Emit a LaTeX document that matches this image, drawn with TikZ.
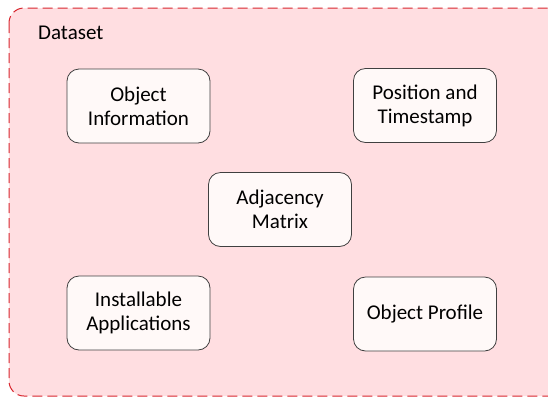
\documentclass[tikz,border=0pt]{standalone}
\usepackage{fontspec}
\setmainfont{Carlito}
\definecolor{setpink}{HTML}{FFDEE1}
\definecolor{setred}{HTML}{D8262E}
\definecolor{itemfill}{HTML}{FFF9F8}
\definecolor{itemline}{HTML}{404040}
\begin{document}
\begin{tikzpicture}[x=1pt, y=-1pt,
	item/.style={draw=itemline, fill=itemfill, rounded corners=12pt, line width=.8pt, minimum width=143pt, minimum height=74pt, align=center, font=\fontsize{21}{24}\selectfont}]
	\useasboundingbox (0,0) rectangle (548,397);
	\clip (0,0) rectangle (548,397);
	\draw[setred, fill=setpink, dash pattern=on 10pt off 5pt, line width=1pt, rounded corners=15pt] (9,8) rectangle (575,396);
	\node[anchor=west, inner sep=0pt, font=\fontsize{21}{24}\selectfont] (title) at (38,33) {Dataset};
	\node[item] (info) at (138.5,106) {Object\\Information};
	\node[item] (pos) at (425,105.5) {Position and\\Timestamp};
	\node[item] (adj) at (280,209.5) {Adjacency\\Matrix};
	\node[item] (apps) at (138.5,313) {Installable\\Applications};
	\node[item] (prof) at (425,314) {Object Profile};
\end{tikzpicture}
\end{document}
